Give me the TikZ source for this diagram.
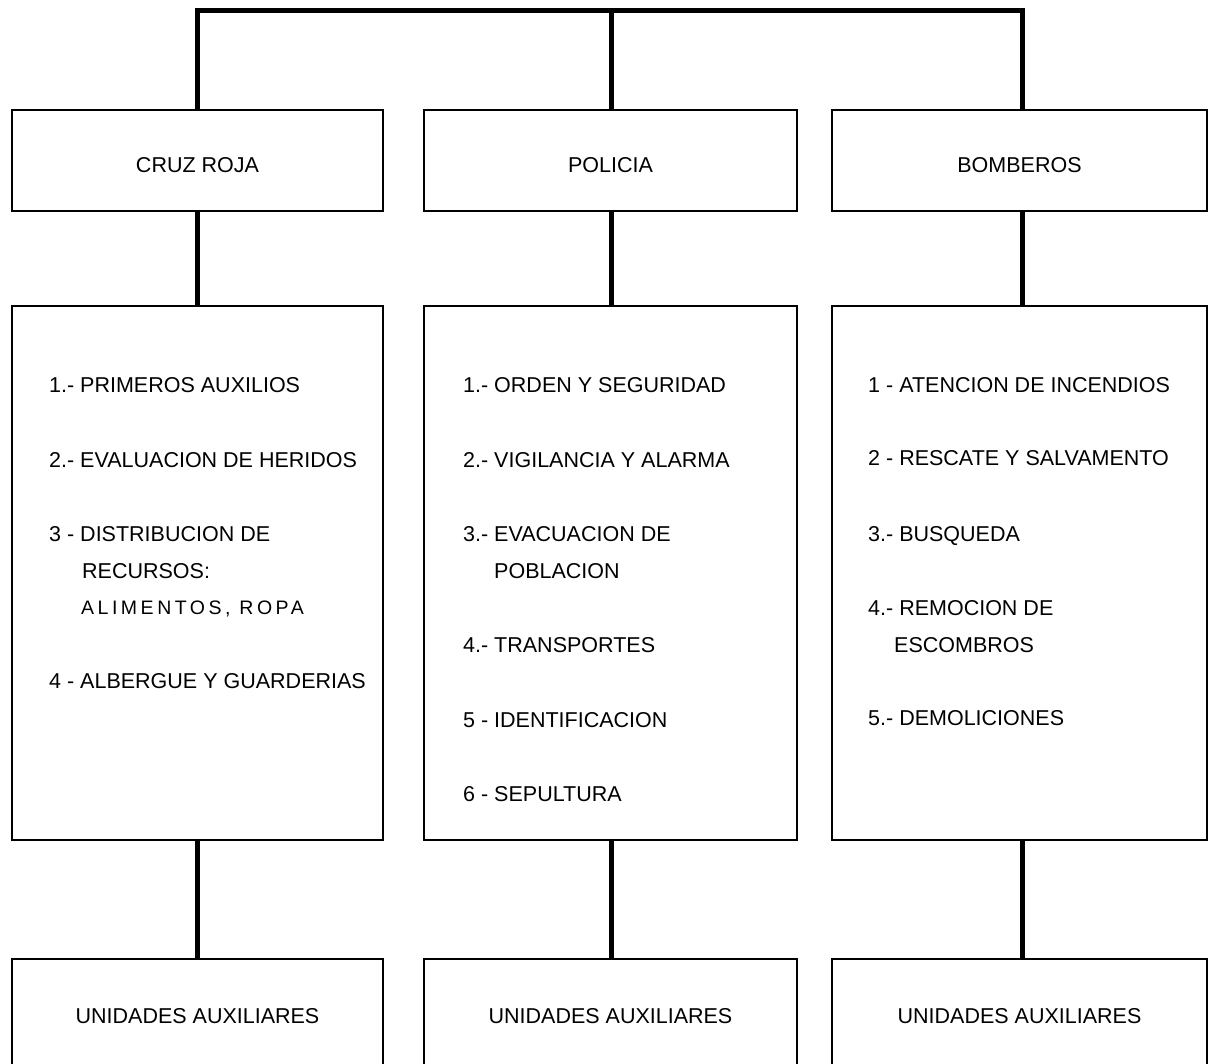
\documentclass[tikz,border=0pt]{standalone}
\usepackage{fontspec}
\setmainfont{Liberation Sans}
\newfontfamily\spacedfont[LetterSpace=18]{Liberation Sans}
\begin{document}
\begin{tikzpicture}[x=1pt,y=-1pt,
  box/.style={draw, line width=2.8pt, rectangle, inner sep=0pt, align=center,
              font=\fontsize{21.5}{25}\selectfont},
  headbox/.style={box, minimum height=101pt, text height=24pt, text depth=0pt},
  listbox/.style={box, minimum height=534pt},
  footbox/.style={box, minimum height=142pt, text height=16pt, text depth=30pt},
  conn/.style={line width=5pt},
  item/.style={anchor=base west, inner sep=0pt, font=\fontsize{21.5}{25}\selectfont}]
\useasboundingbox (0,0) rectangle (1211,1064);
\clip (0,0) rectangle (1211,1064);

% header boxes
\node[headbox, minimum width=371pt] (cr) at (197.5,160.5) {CRUZ ROJA};
\node[headbox, minimum width=373pt] (po) at (610.5,160.5) {POLICIA};
\node[headbox, minimum width=375pt] (bo) at (1019.5,160.5) {BOMBEROS};

% list boxes
\node[listbox, minimum width=371pt] (crl) at (197.5,573) {};
\node[listbox, minimum width=373pt] (pol) at (610.5,573) {};
\node[listbox, minimum width=375pt] (bol) at (1019.5,573) {};

% footer boxes
\node[footbox, minimum width=371pt] (cru) at (197.5,1030) {UNIDADES AUXILIARES};
\node[footbox, minimum width=373pt] (pou) at (610.5,1030) {UNIDADES AUXILIARES};
\node[footbox, minimum width=375pt] (bou) at (1019.5,1030) {UNIDADES AUXILIARES};

% top bus
\coordinate (tl) at (197,11);
\coordinate (tm) at (611,11);
\coordinate (tr) at (1022,11);
\draw[conn] (tl |- cr.north) -- (tl) -- (tr) -- (tr |- bo.north);
\draw[conn] (tm) -- (tm |- po.north);

% vertical connectors
\draw[conn] (tl |- cr.south) -- (tl |- crl.north);
\draw[conn] (tm |- po.south) -- (tm |- pol.north);
\draw[conn] (tr |- bo.south) -- (tr |- bol.north);
\draw[conn] (tl |- crl.south) -- (tl |- cru.north);
\draw[conn] (tm |- pol.south) -- (tm |- pou.north);
\draw[conn] (tr |- bol.south) -- (tr |- bou.north);

% Cruz Roja items
\node[item] (c1) at (49,393) {1.- PRIMEROS AUXILIOS};
\node[item] (c2) at (49,468) {2.- EVALUACION DE HERIDOS};
\node[item] (c3) at (49,542) {3 - DISTRIBUCION DE};
\node[item] (c3b) at (82,578) {RECURSOS:};
\node[item, font=\fontsize{19.5}{23}\spacedfont] (c3c) at (81,614) {ALIMENTOS, ROPA};
\node[item] (c4) at (49,688) {4 - ALBERGUE Y GUARDERIAS};

% Policia items
\node[item] (p1) at (463,393) {1.- ORDEN Y SEGURIDAD};
\node[item] (p2) at (463,468) {2.- VIGILANCIA Y ALARMA};
\node[item] (p3) at (463,542) {3.- EVACUACION DE};
\node[item] (p3b) at (494,578) {POBLACION};
\node[item] (p4) at (463,652) {4.- TRANSPORTES};
\node[item] (p5) at (463,727) {5 - IDENTIFICACION};
\node[item] (p6) at (463,801) {6 - SEPULTURA};

% Bomberos items
\node[item] (b1) at (868,393) {1 - ATENCION DE INCENDIOS};
\node[item] (b2) at (868,466) {2 - RESCATE Y SALVAMENTO};
\node[item] (b3) at (868,542) {3.- BUSQUEDA};
\node[item] (b4) at (868,615) {4.- REMOCION DE};
\node[item] (b4b) at (894,652) {ESCOMBROS};
\node[item] (b5) at (868,725) {5.- DEMOLICIONES};
\end{tikzpicture}
\end{document}
